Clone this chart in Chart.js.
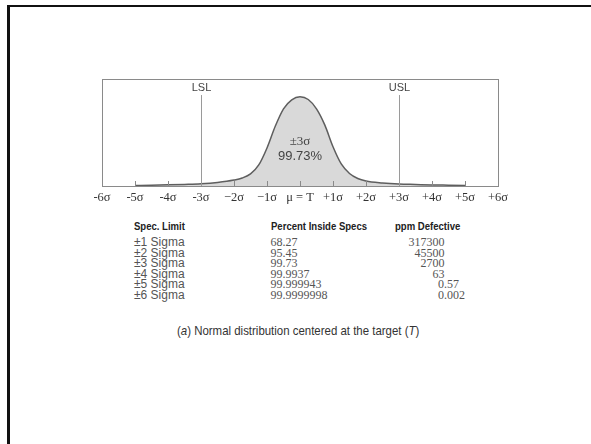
<!DOCTYPE html>
<html>
<head>
<meta charset="utf-8">
<script src="https://cdn.jsdelivr.net/npm/chart.js@4.4.1/dist/chart.umd.min.js"></script>
<style>
  html, body { margin: 0; padding: 0; background: #fff; }
  body { width: 591px; height: 444px; position: relative; overflow: hidden; }
  #frame { position: absolute; left: 7px; top: 5px; width: 600px; height: 460px;
           border-left: 3px solid #111; border-top: 2px solid #111; }
  #wrap { position: absolute; left: 0; top: 0; width: 591px; height: 215px; }
  .t { position: absolute; white-space: nowrap; line-height: 12px; transform-origin: 0 50%; }
  .hd { font-family: "Liberation Sans", sans-serif; font-weight: bold;
        font-size: 11.5px; color: #222; transform: scaleX(0.83); }
  .lb { font-family: "Liberation Sans", sans-serif; font-size: 12px; color: #555; }
  .nm { font-family: "Liberation Serif", serif; font-size: 12px; color: #555; }
  .cap { font-family: "Liberation Sans", sans-serif; font-size: 13px; color: #333; transform: scaleX(0.88); }
</style>
</head>
<body>
<div id="frame"></div>
<div id="wrap"><canvas id="normalChart" width="591" height="215"></canvas></div>
<div id="table"></div>
<script>
// curve: position in sigma, height (peak = 100)
const sigmaPos = [-5, -4.5, -4, -3.5, -3, -2.5, -2, -1.75, -1.5, -1.25, -1, -0.75, -0.5, -0.25, 0,
                  0.25, 0.5, 0.75, 1, 1.25, 1.5, 1.75, 2, 2.5, 3, 3.5, 4, 4.5, 5];
const curveHeight = [0.6, 0.9, 1.3, 1.8, 2.5, 4, 6.7, 9, 13.5, 23.6, 42.7, 67, 86.5, 96.6, 100,
                     97, 86.5, 68.5, 44, 24.7, 14, 8.4, 5.6, 3.4, 2.2, 1.7, 1.2, 0.9, 0.6];
const xTickLabels = ['-6σ', '-5σ', '-4σ', '-3σ', '−2σ', '−1σ', 'μ = T', '+1σ', '+2σ', '+3σ', '+4σ', '+5σ', '+6σ'];
const specLimits = [-3, 3];
const specLabels = ['LSL', 'USL'];
const specTop = 102;

const specRows = ['±1 Sigma', '±2 Sigma', '±3 Sigma', '±4 Sigma', '±5 Sigma', '±6 Sigma'];
const percentInside = ['68.27', '95.45', '99.73', '99.9937', '99.999943', '99.9999998'];
const ppmDefective = ['317300', '45500', '2700', '63', '0.57', '0.002'];

const boxPlugin = {
    id: 'boxPlugin',
    afterDatasetsDraw(chart) {
        const ctx = chart.ctx;
        const a = chart.chartArea;
        const x = chart.scales.x;
        const y = chart.scales.y;
        ctx.save();
        // small inward ticks
        ctx.strokeStyle = '#8a8a8a';
        ctx.lineWidth = 1;
        for (let v = -5; v <= 5; v++) {
            const px = Math.round(x.getPixelForValue(v)) + 0.5;
            ctx.beginPath();
            ctx.moveTo(px, a.bottom);
            ctx.lineTo(px, a.bottom - 5);
            ctx.stroke();
        }
        // spec limit lines
        ctx.strokeStyle = '#9a9a9a';
        ctx.fillStyle = '#444';
        ctx.font = '11px "Liberation Sans", sans-serif';
        ctx.textAlign = 'center';
        ctx.textBaseline = 'middle';
        specLimits.forEach((s, i) => {
            const px = Math.round(x.getPixelForValue(s)) + 0.5;
            ctx.beginPath();
            ctx.moveTo(px, y.getPixelForValue(specTop));
            ctx.lineTo(px, a.bottom);
            ctx.stroke();
            ctx.fillText(specLabels[i], px, a.top + 9);
        });
        // labels inside the curve
        const cx = x.getPixelForValue(0);
        ctx.fillStyle = '#444';
        ctx.font = '13px "Liberation Serif", serif';
        ctx.fillText('±3σ', cx, 142);
        ctx.font = '13px "Liberation Sans", sans-serif';
        ctx.fillText('99.73%', cx, 156);
        // frame
        ctx.strokeStyle = '#8a8a8a';
        ctx.strokeRect(Math.round(a.left) + 0.5, Math.round(a.top) + 0.5,
                       Math.round(a.right - a.left), Math.round(a.bottom - a.top));
        ctx.restore();
    }
};

new Chart(document.getElementById('normalChart'), {
    type: 'line',
    data: {
        datasets: [{
            data: sigmaPos.map((s, i) => ({ x: s, y: curveHeight[i] })),
            borderColor: '#5e5e5e',
            borderWidth: 1.5,
            backgroundColor: '#d9d9d9',
            fill: 'origin',
            pointRadius: 0,
            cubicInterpolationMode: 'monotone'
        }]
    },
    options: {
        responsive: false,
        animation: false,
        layout: { padding: { left: 102, right: 93, top: 79, bottom: 7 } },
        plugins: { legend: { display: false }, tooltip: { enabled: false } },
        scales: {
            x: {
                type: 'linear',
                min: -6,
                max: 6,
                grid: { display: false, drawTicks: false },
                border: { display: false },
                afterFit: (s) => { s.height = 22; },
                ticks: {
                    stepSize: 1,
                    padding: 4,
                    autoSkip: false,
                    maxRotation: 0,
                    color: '#333',
                    font: { family: '"Liberation Serif", serif', size: 12.5 },
                    callback: (v) => xTickLabels[v + 6]
                }
            },
            y: { display: false, min: 0, max: 120 }
        }
    },
    plugins: [boxPlugin]
});

const table = document.getElementById('table');
const rowY = [242, 252.5, 263, 273.5, 284, 294.5];
function addText(cls, txt, left, cy, align) {
    const d = document.createElement('div');
    d.className = 't ' + cls;
    d.textContent = txt;
    d.style.top = (cy - 6) + 'px';
    if (align === 'right') d.style.right = (591 - left) + 'px';
    else d.style.left = left + 'px';
    table.appendChild(d);
    return d;
}
addText('hd', 'Spec. Limit', 134, 225.5);
addText('hd', 'Percent Inside Specs', 270.5, 225.5);
addText('hd', 'ppm Defective', 395, 225.5);
specRows.forEach((r, i) => {
    addText('lb', r, 134, rowY[i]);
    addText('nm', percentInside[i], 270.5, rowY[i]);
    if (ppmDefective[i].indexOf('.') >= 0) addText('nm', ppmDefective[i], 438, rowY[i]);
    else addText('nm', ppmDefective[i], 444.5, rowY[i], 'right');
});
const cap = addText('cap', '', 0, 331);
cap.innerHTML = '(<i>a</i>) Normal distribution centered at the target (<i>T</i>)';
cap.style.left = '177px';
</script>
</body>
</html>
